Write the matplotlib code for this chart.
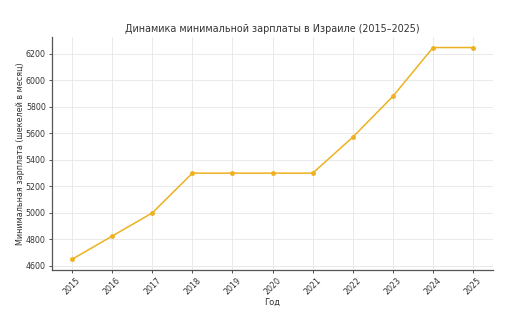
import matplotlib
matplotlib.use("Agg")
import matplotlib.pyplot as plt

# Minimum wage in Israel, NIS per month
years = [2015, 2016, 2017, 2018, 2019, 2020, 2021, 2022, 2023, 2024, 2025]
wage = [4650, 4825, 5000, 5300, 5300, 5300, 5300, 5572, 5880, 6248, 6248]

plt.rcParams['font.family'] = ['DejaVu Sans']
text_color = '#333333'

fig = plt.figure(figsize=(5.1, 3.16), dpi=100)
ax = fig.add_axes([0.102, 0.146, 0.865, 0.737])

ax.plot(years, wage, color='#EDB121', marker='o', markersize=2.5, linewidth=1.1)

ax.set_xticks(years)
ax.set_xticklabels([str(y) for y in years], rotation=45)
ax.set_yticks(range(4600, 6201, 200))

ax.grid(True, color='#e6e6e6', linewidth=0.6)
ax.set_axisbelow(True)
for side in ['top', 'right']:
    ax.spines[side].set_visible(False)
for side in ['left', 'bottom']:
    ax.spines[side].set_color('#555555')
    ax.spines[side].set_linewidth(0.9)

ax.tick_params(axis='both', labelsize=5.7, colors=text_color, length=2.5, width=0.6, pad=2)
ax.set_xlabel('Год', fontsize=6.0, color=text_color, labelpad=1)
ax.set_ylabel('Минимальная зарплата (шекелей в месяц)', fontsize=5.8, color=text_color, labelpad=0.5)
ax.set_title('Динамика минимальной зарплаты в Израиле (2015–2025)', fontsize=6.9, color=text_color, pad=3.5)

fig.savefig('out.png', dpi=100)
